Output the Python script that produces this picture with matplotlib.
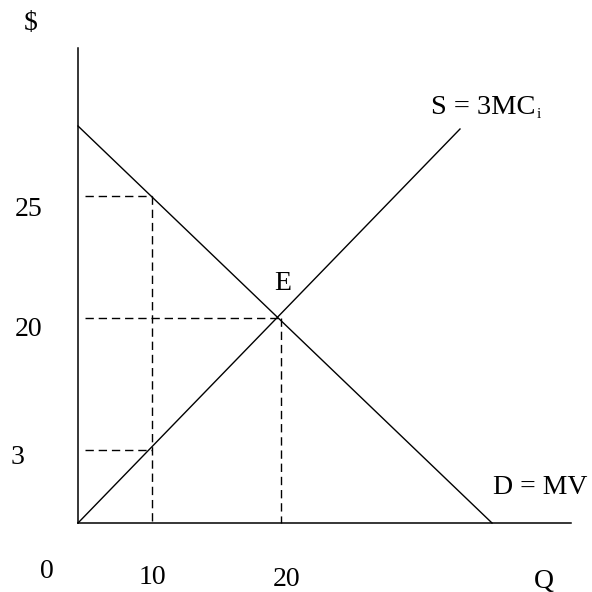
import matplotlib.pyplot as plt

plt.rcParams['font.family'] = ['Liberation Serif', 'DejaVu Serif']

# drawing space (sketch is not to scale), y grows downward
axis_x = [78, 78, 78, 571]
axis_y = [48, 523, 523, 523]

demand_x = [78, 492]
demand_y = [126, 523]
supply_x = [78, 460]
supply_y = [523, 129]

# dashed guides: (x0, x1, y) horizontals and (x, y0, y1) verticals
h_guides = [(85, 152, 196), (85, 279, 318), (85, 152, 450)]
v_guides = [(152, 196, 523), (281, 318, 523)]

labels = [
    ("$", 31, 24),
    ("25", 29, 210),
    ("20", 29, 329),
    ("3", 17, 457),
    ("0", 47, 571),
    ("10", 152, 578),
    ("20", 287, 580),
    ("Q", 544, 581),
    ("E", 283, 283),
    ("D = MV", 540, 488),
]

fig = plt.figure(figsize=(5.92, 5.92), dpi=100)
ax = fig.add_axes([0, 0, 1, 1])
ax.set_xlim(0, 592)
ax.set_ylim(592, 0)
ax.axis('off')

ax.plot(axis_x[:2], axis_y[:2], color='black', lw=1.1)
ax.plot(axis_x[2:], axis_y[2:], color='black', lw=1.1)
ax.plot(demand_x, demand_y, color='black', lw=1.0)
ax.plot(supply_x, supply_y, color='black', lw=1.0)

dash = (0, (6, 3.5))
for x0, x1, y in h_guides:
    ax.plot([x0, x1], [y, y], color='black', lw=1.0, linestyle=dash)
for x, y0, y1 in v_guides:
    ax.plot([x, x], [y0, y1], color='black', lw=1.0, linestyle=dash)

for txt, x, y in labels:
    ax.text(x, y, txt, fontsize=20, ha='center', va='center')

s_lab = ax.text(431, 107, "S = 3MC", fontsize=20.5, ha='left', va='center')
fig.canvas.draw()
bb = s_lab.get_window_extent()
ax.annotate("i", xy=(bb.x1, bb.y0), xycoords='figure pixels',
            xytext=(0.5, -1), textcoords='offset points',
            fontsize=11, ha='left', va='bottom')

fig.savefig('out.png', dpi=100)
